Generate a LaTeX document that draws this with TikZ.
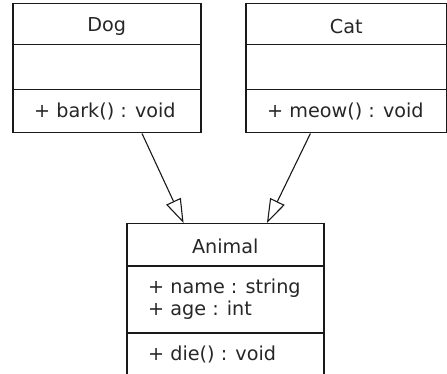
\documentclass[tikz,border=0pt]{standalone}
\usepackage{fontspec}
\setmainfont{DejaVu Sans}
\usetikzlibrary{arrows.meta,calc}

\tikzset{
  umlline/.style={draw=black!90, line width=1.5pt},
  compart/.style={umlline, rectangle, inner sep=0pt, anchor=north west},
  clsname/.style={font=\fontsize{19.2}{22}\selectfont, text=black!85, inner sep=0pt, yshift=-2pt},
  member/.style={font=\fontsize{19.2}{22}\selectfont, text=black!85, inner sep=0pt, anchor=west, align=left},
  inherit/.style={draw=black!90, line width=1.1pt, -{Triangle[open, length=24pt, width=16pt, line width=1.1pt]}},
}

\begin{document}
\begin{tikzpicture}[x=1pt, y=-1pt]
  \useasboundingbox (0,0) rectangle (447,374);

  % class Dog
  \node[compart, minimum width=188pt, minimum height=41pt] (dogn) at (12,3) {};
  \node[compart, minimum width=188pt, minimum height=45pt] (doga) at (12,44) {};
  \node[compart, minimum width=188pt, minimum height=43pt] (dogo) at (12,89) {};
  \node[clsname] (dogt) at (dogn.center) {Dog};
  \node[member] (dogm) at ($(dogo.west)+(22,0)$) {+ bark() : void};

  % class Cat
  \node[compart, minimum width=201pt, minimum height=41pt] (catn) at (245,3) {};
  \node[compart, minimum width=201pt, minimum height=45pt] (cata) at (245,44) {};
  \node[compart, minimum width=201pt, minimum height=43pt] (cato) at (245,89) {};
  \node[clsname] (catt) at (catn.center) {Cat};
  \node[member] (catm) at ($(cato.west)+(22,0)$) {+ meow() : void};

  % class Animal
  \node[compart, minimum width=197pt, minimum height=42pt] (anin) at (126,223) {};
  \node[compart, minimum width=197pt, minimum height=67pt] (ania) at (126,265) {};
  \node[compart, minimum width=197pt, minimum height=43pt] (anio) at (126,332) {};
  \node[clsname] (anit) at (anin.center) {Animal};
  \node[member] (aniattr) at ($(ania.west)+(22,0)$) {+ name : string\\+ age : int};
  \node[member] (anim) at ($(anio.west)+(22,0)$) {+ die() : void};

  % generalisation arrows
  \draw[inherit] ($(dogo.south west)!0.686!(dogo.south east)$) -- ($(anin.north west)!0.29!(anin.north east)$);
  \draw[inherit] ($(cato.south west)!0.323!(cato.south east)$) -- ($(anin.north west)!0.71!(anin.north east)$);
\end{tikzpicture}
\end{document}
